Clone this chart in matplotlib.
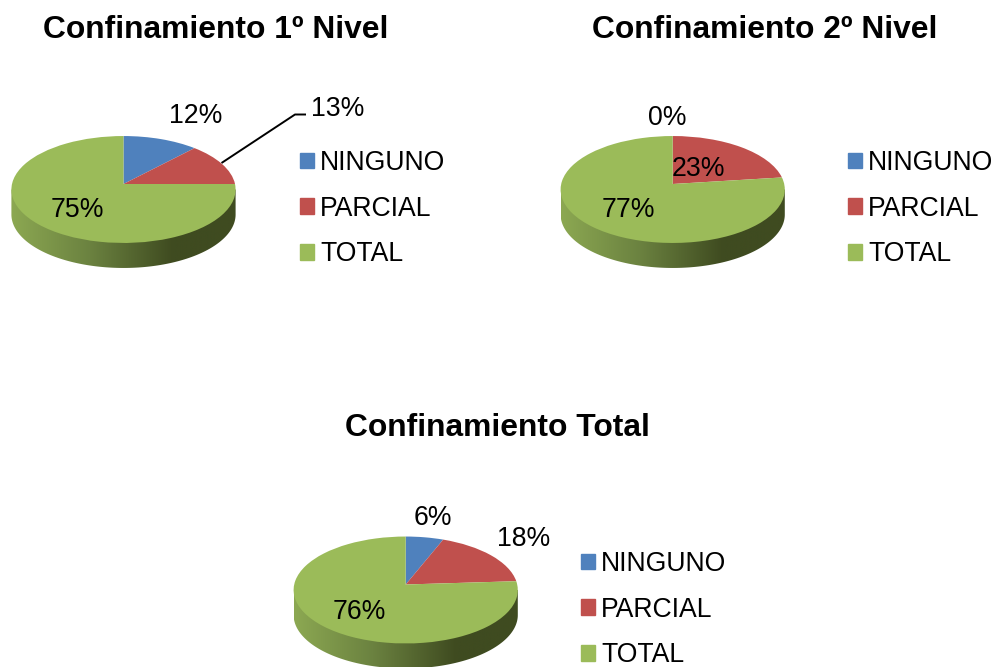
import matplotlib
matplotlib.use("Agg")
import matplotlib.pyplot as plt
import numpy as np
from matplotlib.colors import LinearSegmentedColormap
from matplotlib.legend import Legend
from matplotlib.patches import Patch, Polygon
from matplotlib.transforms import Transform

plt.rcParams['font.family'] = ['Liberation Sans', 'DejaVu Sans']

# data
categories = ["NINGUNO", "PARCIAL", "TOTAL"]
titles = ["Confinamiento 1º Nivel", "Confinamiento 2º Nivel", "Confinamiento Total"]
nivel1 = [12, 13, 75]
nivel2 = [0, 23, 77]
total = [6, 18, 76]

colors = ["#4F81BD", "#C0504D", "#9BBB59"]
wall_cmap = LinearSegmentedColormap.from_list(
    "wall", [(0, "#8CA852"), (0.35, "#6B8240"), (0.72, "#3F4B20"), (1, "#3F4B20")])

# pixel layout: apex of the pie, label centres, legend corner, title centre
DEPTH = 25
FS = 19.2


class PieTilt(Transform):
    # the unit circle seen in perspective, so the apex sits above the ellipse centre
    input_dims = 2
    output_dims = 2

    def __init__(self, cx, cy, a=111.5, b=52.9, k=0.1028):
        super().__init__()
        self.cx, self.cy, self.a, self.b, self.k = cx, cy, a, b, k

    def transform_non_affine(self, values):
        values = np.asarray(values)
        w = 1 + self.k * values[:, 1]
        return np.column_stack([self.cx + self.a * values[:, 0] / w,
                                self.cy - self.b * values[:, 1] / w])


fig = plt.figure(figsize=(10.02, 6.67), dpi=100)
ax = fig.add_axes([0, 0, 1, 1])


def draw_pie(values, title, apex, title_pos, label_pos, legend_pos):
    tilt = PieTilt(*apex)

    # side wall: lower half of the rim pushed down, gradient clipped to it
    t = np.linspace(0, 2 * np.pi, 361)
    rim = tilt.transform_non_affine(np.column_stack([np.cos(t), np.sin(t)]))
    mid = (rim[:, 1].min() + rim[:, 1].max()) / 2
    left, right = rim[:, 0].min(), rim[:, 0].max()
    low = rim[rim[:, 1] >= mid]
    low = low[np.argsort(-low[:, 0])]
    wall = np.vstack([[right, mid], low + [0, DEPTH], [left, mid]])
    img = ax.imshow(np.linspace(0, 1, 256)[None, :], cmap=wall_cmap, aspect="auto", vmin=0, vmax=1,
                    extent=[left, right, mid + 60 + DEPTH, mid], zorder=0)
    img.set_clip_path(Polygon(wall, transform=ax.transData))

    ax.pie(values, colors=colors, startangle=90, counterclock=False,
           wedgeprops={"transform": tilt + ax.transData, "linewidth": 0, "edgecolor": "none"})

    ax.text(*title_pos, title, fontsize=22.9, fontweight="bold", ha="center", va="center")
    for v, pos in zip(values, label_pos):
        ax.text(*pos, f"{v}%", fontsize=FS, ha="center", va="center", color="black")

    handles = [Patch(color=c) for c in colors]
    leg = Legend(ax, handles, categories, loc="upper left", bbox_to_anchor=legend_pos,
                 bbox_transform=ax.transData, frameon=False, fontsize=FS, borderpad=0,
                 borderaxespad=0, handlelength=0.52, handleheight=0.52, handletextpad=0.23,
                 labelspacing=0.735)
    ax.add_artist(leg)


draw_pie(nivel1, titles[0], (123.5, 184), (215.5, 30),
         [(196, 116), (338, 109), (77, 210)], (300, 150))
draw_pie(nivel2, titles[1], (672.7, 184), (764.5, 30),
         [(667, 118), (698, 169), (628, 210)], (848, 150))
draw_pie(total, titles[2], (405.7, 584.5), (497, 428),
         [(433, 518), (524, 539), (359, 612)], (581, 551))

# leader line for the 13% label
ax.plot([221.5, 295, 306], [163, 114.5, 114.5], color="black", lw=1.4, solid_capstyle="butt")

ax.set_aspect("auto")
ax.set_xlim(0, 1002)
ax.set_ylim(667, 0)
ax.axis("off")

fig.savefig("out.png", dpi=100)
